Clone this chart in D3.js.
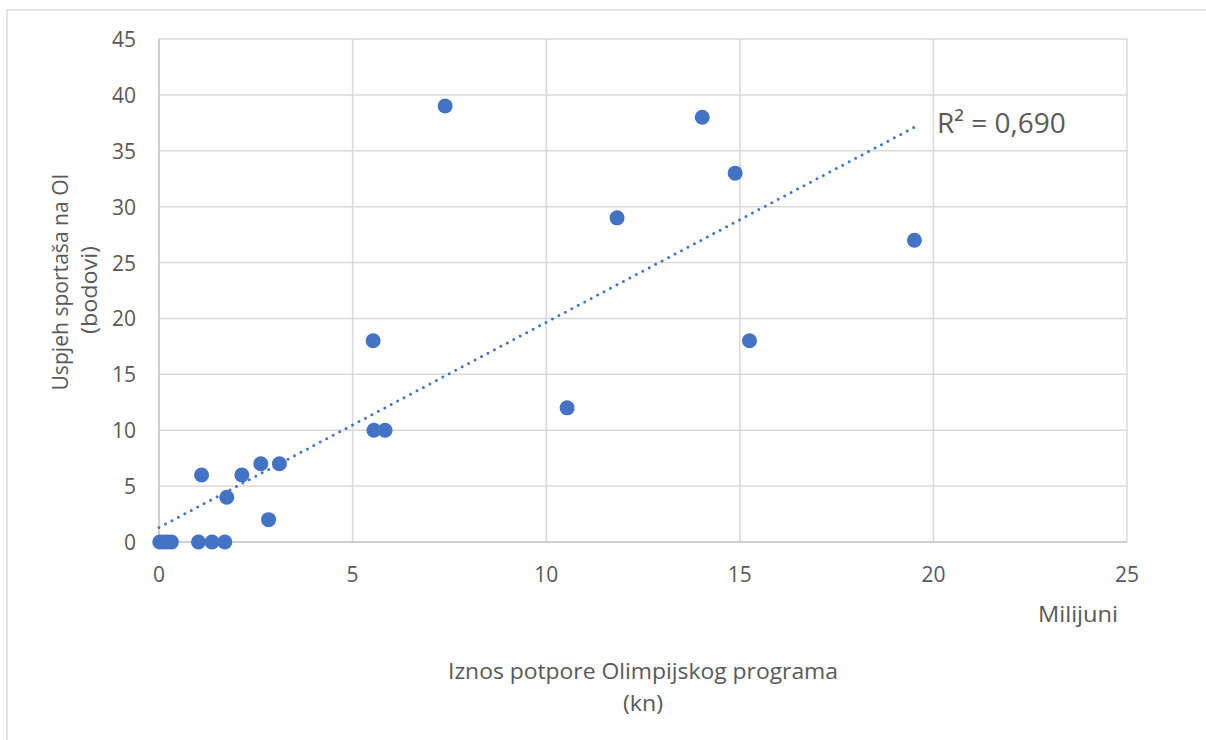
<html>
<head>
<meta charset="utf-8">
<script src="https://cdn.jsdelivr.net/npm/d3@7"></script>
<style>
  body { margin: 0; background: #fff; }
  text { font-family: "Open Sans", Lato, sans-serif; fill: #595959; }
</style>
</head>
<body>
<svg width="1206" height="740"></svg>
<script>
// support amount (millions kn) and points
const supportMil = [0.02, 0.12, 0.22, 0.32, 1.02, 1.37, 1.70, 1.10, 1.75, 2.14, 2.63, 3.11, 2.83,
                    5.55, 5.84, 5.53, 7.39, 10.54, 11.83, 14.03, 14.88, 15.25, 19.51];
const points     = [0, 0, 0, 0, 0, 0, 0, 6, 4, 6, 7, 7, 2,
                    10, 10, 18, 39, 12, 29, 38, 33, 18, 27];
const xTicks = [0, 5, 10, 15, 20, 25];
const yTicks = [0, 5, 10, 15, 20, 25, 30, 35, 40, 45];
const r2Label = "R² = 0,690";

const svg = d3.select("svg");

// outer chart border
svg.append("rect")
  .attr("x", 7).attr("y", 10).attr("width", 1220).attr("height", 760)
  .attr("fill", "none").attr("stroke", "#d9d9d9").attr("stroke-width", 1.5);

const x = d3.scaleLinear().domain([0, 25]).range([159, 1127]);
const y = d3.scaleLinear().domain([0, 45]).range([542, 39]);

// gridlines
svg.append("g").selectAll("line").data(xTicks.slice(1)).join("line")
  .attr("x1", d => x(d)).attr("x2", d => x(d))
  .attr("y1", y(0)).attr("y2", y(45))
  .attr("stroke", "#d9d9d9").attr("stroke-width", 1.5);
svg.append("g").selectAll("line").data(yTicks.slice(1)).join("line")
  .attr("x1", x(0)).attr("x2", x(25))
  .attr("y1", d => y(d)).attr("y2", d => y(d))
  .attr("stroke", "#d9d9d9").attr("stroke-width", 1.5);

// axis lines
svg.append("line").attr("x1", x(0)).attr("x2", x(0)).attr("y1", y(0)).attr("y2", y(45))
  .attr("stroke", "#bfbfbf").attr("stroke-width", 1.5);
svg.append("line").attr("x1", x(0)).attr("x2", x(25)).attr("y1", y(0)).attr("y2", y(0))
  .attr("stroke", "#bfbfbf").attr("stroke-width", 1.5);

// tick labels
svg.append("g").selectAll("text").data(xTicks).join("text")
  .attr("x", d => x(d)).attr("y", 582)
  .attr("text-anchor", "middle").style("font-size", "21px")
  .text(d => d);
svg.append("g").selectAll("text").data(yTicks).join("text")
  .attr("x", 136).attr("y", d => y(d) + 8)
  .attr("text-anchor", "end").style("font-size", "21px")
  .text(d => d);

// trendline (least squares)
const n = supportMil.length;
const mx = d3.mean(supportMil), my = d3.mean(points);
let sxy = 0, sxx = 0;
for (let i = 0; i < n; i++) {
  sxy += (supportMil[i] - mx) * (points[i] - my);
  sxx += (supportMil[i] - mx) * (supportMil[i] - mx);
}
const slope = sxy / sxx, icpt = my - slope * mx;
const x0 = 0, x1 = d3.max(supportMil);
svg.append("line")
  .attr("x1", x(x0)).attr("y1", y(icpt + slope * x0))
  .attr("x2", x(x1)).attr("y2", y(icpt + slope * x1))
  .attr("stroke", "#4472c4").attr("stroke-width", 3)
  .attr("stroke-linecap", "round").attr("stroke-dasharray", "0,7.3");

// points
svg.append("g").selectAll("circle").data(supportMil).join("circle")
  .attr("cx", d => x(d)).attr("cy", (d, i) => y(points[i]))
  .attr("r", 7.5).attr("fill", "#4472c4");

// R² label
svg.append("text").attr("x", 937).attr("y", 133)
  .style("font-size", "28px").text(r2Label);

// axis titles
svg.append("text").attr("x", 1118).attr("y", 622)
  .attr("text-anchor", "end").style("font-size", "22px")
  .attr("textLength", 80).attr("lengthAdjust", "spacingAndGlyphs").text("Milijuni");
svg.append("text").attr("x", 643).attr("y", 679)
  .attr("text-anchor", "middle").style("font-size", "22.5px")
  .attr("textLength", 390).attr("lengthAdjust", "spacingAndGlyphs")
  .text("Iznos potpore Olimpijskog programa");
svg.append("text").attr("x", 643).attr("y", 711)
  .attr("text-anchor", "middle").style("font-size", "22.5px")
  .attr("textLength", 40).attr("lengthAdjust", "spacingAndGlyphs").text("(kn)");

svg.append("text").attr("transform", "translate(68,282) rotate(-90)")
  .attr("text-anchor", "middle").style("font-size", "22.5px")
  .attr("textLength", 217).attr("lengthAdjust", "spacingAndGlyphs")
  .text("Uspjeh sportaša na OI");
svg.append("text").attr("transform", "translate(97,290) rotate(-90)")
  .attr("text-anchor", "middle").style("font-size", "22.5px")
  .attr("textLength", 88).attr("lengthAdjust", "spacingAndGlyphs")
  .text("(bodovi)");
</script>
</body>
</html>
